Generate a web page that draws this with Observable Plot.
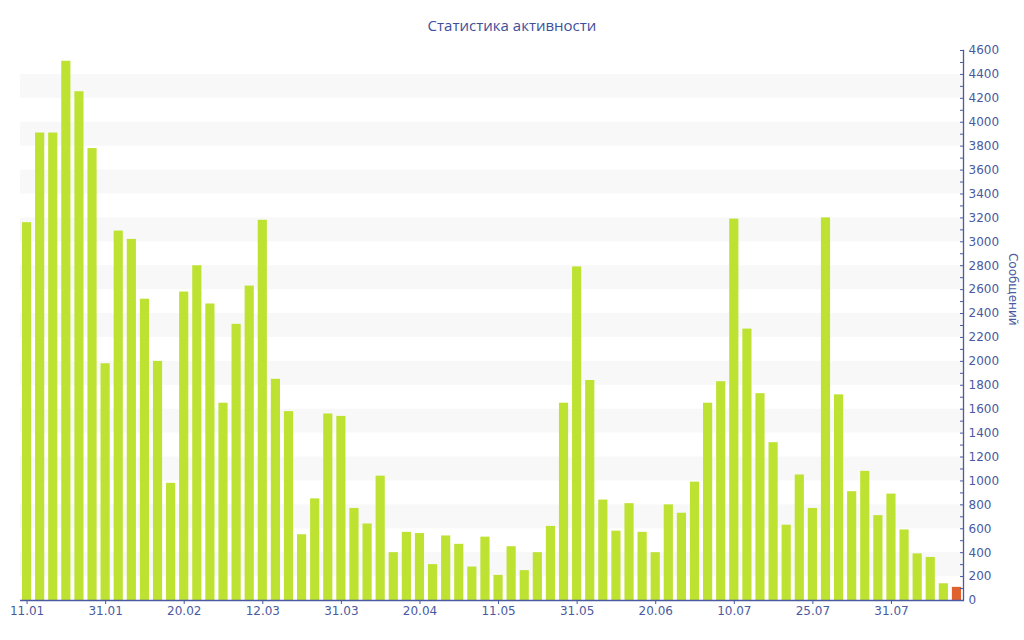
<!DOCTYPE html>
<html>
<head>
<meta charset="utf-8">
<script src="https://cdn.jsdelivr.net/npm/d3@7"></script>
<script src="https://cdn.jsdelivr.net/npm/@observablehq/plot@0.6"></script>
<style>
  html, body { margin: 0; padding: 0; background: #fff; }
  #title { height: 40px; line-height: 50px; text-align: center; font-family: "Open Sans", sans-serif; font-size: 15px; color: #3e4f9a; }
  #chart svg { display: block; }
</style>
</head>
<body>
<div id="title">Статистика активности</div>
<div id="chart"></div>
<script>
const values = [3160, 3910, 3910, 4510, 4255, 3780, 1980, 3090, 3020, 2520, 2000, 980,
  2580, 2800, 2480, 1650, 2310, 2630, 3180, 1850, 1580, 550, 850, 1560,
  1540, 770, 640, 1040, 400, 570, 560, 300, 540, 470, 280, 530,
  210, 450, 250, 400, 620, 1650, 2790, 1840, 840, 580, 810, 570,
  400, 800, 730, 990, 1650, 1830, 3190, 2270, 1730, 1320, 630, 1050,
  770, 3200, 1720, 910, 1080, 710, 890, 590, 390, 360, 140, 110];
const tickLabels = ["11.01", "31.01", "20.02", "12.03", "31.03", "20.04", "11.05", "31.05", "20.06", "10.07", "25.07", "31.07"];
const tickEvery = 6;
const bandStarts = [200, 600, 1000, 1400, 1800, 2200, 2600, 3000, 3400, 3800, 4200];
const bandHeight = 200;
const yMajor = d3.range(0, 4601, 200);
const yMinor = d3.range(0, 4601, 100);

const data = values.map((v, i) => ({i, v, last: i === values.length - 1}));
const tickIdx = tickLabels.map((_, k) => k * tickEvery);
const axisColor = "#4a5aa0";

const chart = Plot.plot({
  width: 1024,
  height: 600,
  marginLeft: 20,
  marginRight: 61,
  marginTop: 10,
  marginBottom: 40,
  style: {fontFamily: "DejaVu Sans, sans-serif", fontSize: "12px", color: axisColor, background: "#fff"},
  x: {type: "band", domain: d3.range(values.length), paddingInner: 0.3, paddingOuter: 0.15, round: false},
  y: {domain: [0, 4600]},
  marks: [
    Plot.rectY(bandStarts, {y1: d => d, y2: d => d + bandHeight, fill: "#f8f8f8"}),
    Plot.barY(data, {x: "i", y: "v", fill: d => d.last ? "#e0622e" : "#bee232"}),
    Plot.ruleY([0], {stroke: axisColor, strokeWidth: 1.3}),
    Plot.frame({anchor: "right", stroke: axisColor, strokeWidth: 1.3}),
    Plot.axisX({ticks: tickIdx, tickFormat: i => tickLabels[i / tickEvery], tickSize: 4, tickPadding: 2, stroke: axisColor, fill: axisColor, label: null}),
    Plot.axisY({anchor: "right", ticks: yMinor, tickSize: 4, dx: -4, tickFormat: () => "", stroke: axisColor, label: null}),
    Plot.axisY({anchor: "right", ticks: yMajor, tickSize: 0, tickPadding: 5, tickFormat: d => String(d), fill: axisColor, label: null}),
    Plot.text(["Сообщений"], {frameAnchor: "right", rotate: 90, dx: 49, fill: axisColor, fontSize: 12})
  ]
});
document.getElementById("chart").appendChild(chart);
</script>
</body>
</html>
